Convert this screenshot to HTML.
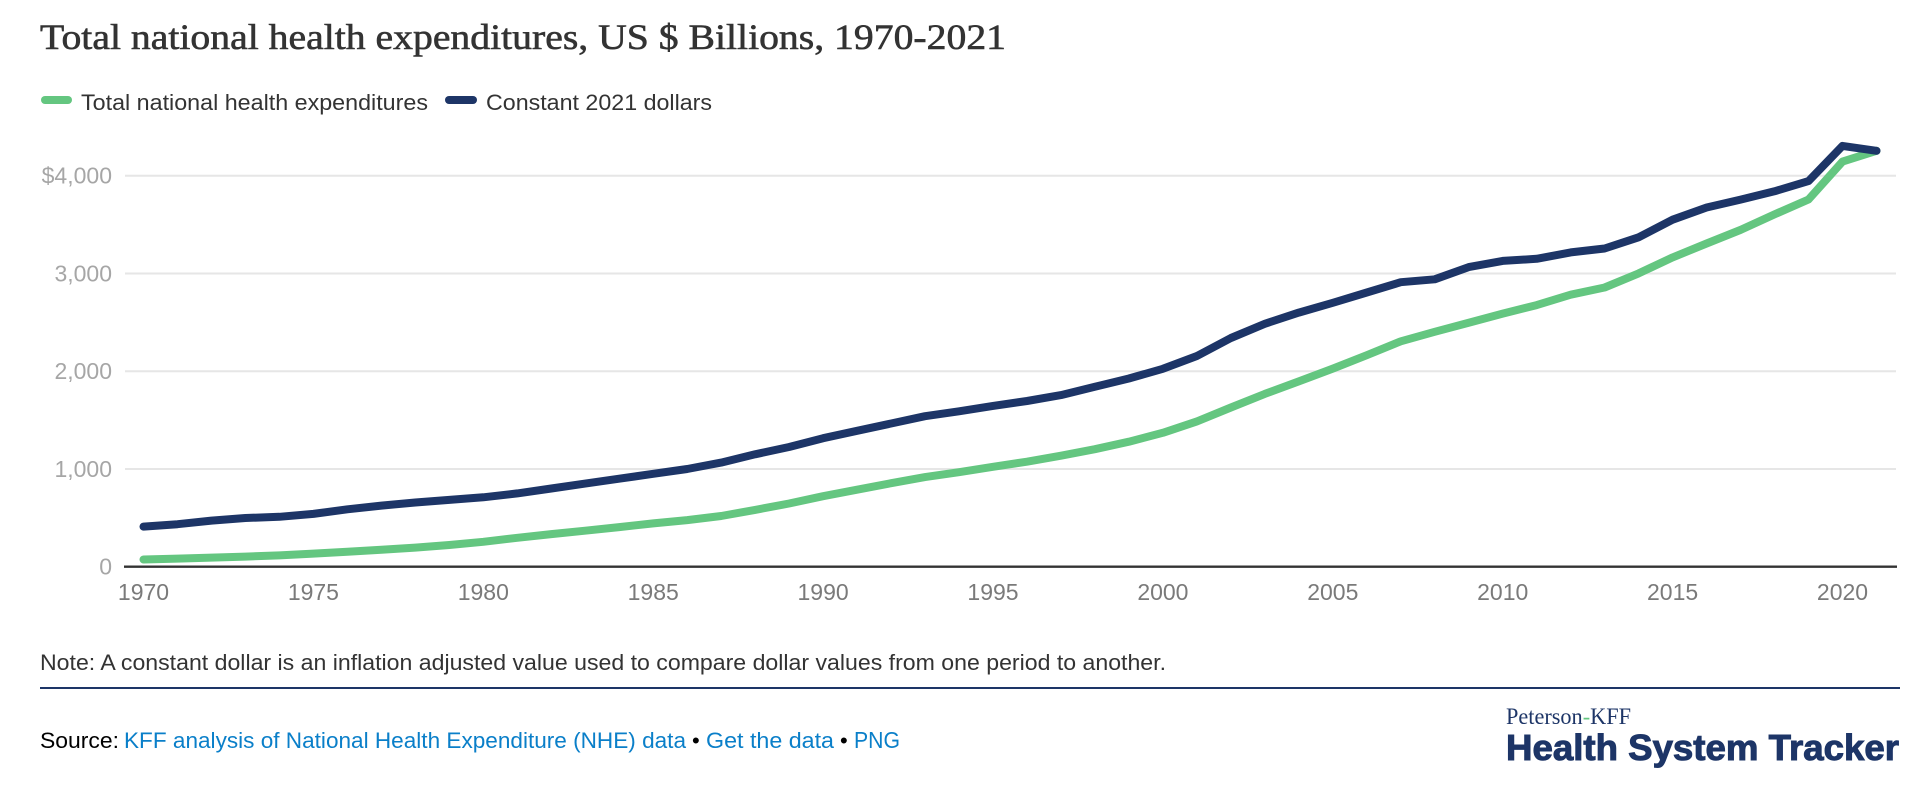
<!DOCTYPE html>
<html lang="en">
<head>
<meta charset="utf-8">
<title>Total national health expenditures, US $ Billions, 1970-2021</title>
<style>
  html, body { margin: 0; padding: 0; background: #fff; width: 1920px; height: 790px; overflow: hidden; }
  svg { display: block; }
  text { font-family: "Liberation Sans", sans-serif; }
  .serif { font-family: "Liberation Serif", serif; }
  a { cursor: pointer; }
</style>
</head>
<body>
<svg id="chart" width="1920" height="790" viewBox="0 0 1920 790" xmlns="http://www.w3.org/2000/svg">
  <text class="serif" x="40" y="49" font-size="36" fill="#333" stroke="#333" stroke-width="0.6" textLength="966" lengthAdjust="spacingAndGlyphs">Total national health expenditures, US $ Billions, 1970-2021</text>

  <rect x="41" y="96" width="31" height="8" rx="4" fill="#64c680"/>
  <text x="81" y="110" font-size="22" fill="#333" textLength="347" lengthAdjust="spacingAndGlyphs">Total national health expenditures</text>
  <rect x="445" y="96" width="32" height="8" rx="4" fill="#1d3567"/>
  <text x="486" y="110" font-size="22" fill="#333" textLength="226" lengthAdjust="spacingAndGlyphs">Constant 2021 dollars</text>

  <g id="grid"></g>
  <g id="y-axis"></g>
  <g id="x-axis"></g>
  <g id="series"></g>

  <text x="40" y="670" font-size="22" fill="#333" textLength="1126" lengthAdjust="spacingAndGlyphs">Note: A constant dollar is an inflation adjusted value used to compare dollar values from one period to another.</text>
  <rect x="40" y="687" width="1860" height="2" fill="#1d3567"/>

  <text x="40" y="748" font-size="22" fill="#000" textLength="79" lengthAdjust="spacingAndGlyphs">Source:</text>
  <a href="#"><text x="124" y="748" font-size="22" fill="#0a7fc9" textLength="562" lengthAdjust="spacingAndGlyphs">KFF analysis of National Health Expenditure (NHE) data</text></a>
  <text x="692" y="748" font-size="22" fill="#000">•</text>
  <a href="#"><text x="706" y="748" font-size="22" fill="#0a7fc9" textLength="128" lengthAdjust="spacingAndGlyphs">Get the data</text></a>
  <text x="840" y="748" font-size="22" fill="#000">•</text>
  <a href="#"><text x="854" y="748" font-size="23" fill="#0a7fc9" textLength="46" lengthAdjust="spacingAndGlyphs">PNG</text></a>

  <g>
    <text class="serif" x="1506" y="724" font-size="23" fill="#1d3567" textLength="125" lengthAdjust="spacingAndGlyphs">Peterson<tspan fill="#64c680">-</tspan>KFF</text>
    <text x="1506" y="760" font-size="36" font-weight="700" fill="#1d3567" stroke="#1d3567" stroke-width="1" textLength="393" lengthAdjust="spacingAndGlyphs">Health System Tracker</text>
  </g>
</svg>

<script>
const years = [1970,1971,1972,1973,1974,1975,1976,1977,1978,1979,1980,1981,1982,1983,1984,1985,1986,1987,1988,1989,1990,1991,1992,1993,1994,1995,1996,1997,1998,1999,2000,2001,2002,2003,2004,2005,2006,2007,2008,2009,2010,2011,2012,2013,2014,2015,2016,2017,2018,2019,2020,2021];
const totalExpenditures = [74,83,93,103,116,134,153,174,195,222,255,296,334,368,405,443,477,519,581,647,721,788,854,917,967,1022,1074,1136,1202,1279,1370,1486,1629,1768,1896,2027,2164,2306,2403,2496,2589,2676,2783,2856,3001,3164,3306,3446,3604,3757,4144,4255];
const constantDollars = [410,435,472,498,510,540,587,625,657,683,710,750,800,850,900,950,1000,1065,1150,1225,1315,1390,1465,1540,1590,1645,1695,1755,1840,1925,2025,2155,2340,2485,2600,2700,2805,2910,2940,3065,3128,3150,3215,3255,3370,3550,3675,3755,3840,3945,4305,4255];
const yTickValues = [1000,2000,3000,4000];
const yTickLabels = ["1,000","2,000","3,000","$4,000"];
const xTickYears = [1970,1975,1980,1985,1990,1995,2000,2005,2010,2015,2020];

const NS = "http://www.w3.org/2000/svg";
const xScale = y => 143.5 + (y - 1970) * 33.98;
const yScale = v => 566.7 - v * 0.09775;

const grid = document.getElementById('grid');
const yAxis = document.getElementById('y-axis');
const xAxis = document.getElementById('x-axis');
const seriesGroup = document.getElementById('series');

function makeLine(x1, x2, y, color, w) {
  const l = document.createElementNS(NS, 'line');
  l.setAttribute('x1', x1);
  l.setAttribute('x2', x2);
  l.setAttribute('y1', y);
  l.setAttribute('y2', y);
  l.setAttribute('stroke', color);
  l.setAttribute('stroke-width', w);
  return l;
}

function makeText(x, y, str, anchor, color) {
  const t = document.createElementNS(NS, 'text');
  t.setAttribute('x', x);
  t.setAttribute('y', y);
  t.setAttribute('font-size', 23);
  t.setAttribute('text-anchor', anchor);
  t.setAttribute('fill', color);
  t.textContent = str;
  return t;
}

yTickValues.forEach((v, i) => {
  const g = makeLine(125, 1896, yScale(v), '#e6e6e6', 2);
  
  
  grid.appendChild(g);
  const t = makeText(112, yScale(v) + 8, yTickLabels[i], 'end', '#a6a6a6');
  
  
  yAxis.appendChild(t);
});

const zeroLabel = makeText(112, yScale(0) + 8, '0', 'end', '#a6a6a6');


yAxis.appendChild(zeroLabel);

const baseline = makeLine(124, 1897, yScale(0), '#333333', 2.4);


xAxis.appendChild(baseline);

xTickYears.forEach(y => {
  const t = makeText(xScale(y), 600, String(y), 'middle', '#7a7a7a');
  
  
  xAxis.appendChild(t);
});

function makeSeries(values, color) {
  const p = document.createElementNS(NS, 'path');
  const d = values.map((v, i) => (i ? 'L' : 'M') + xScale(years[i]).toFixed(1) + ' ' + yScale(v).toFixed(1)).join(' ');
  p.setAttribute('d', d);
  p.setAttribute('fill', 'none');
  p.setAttribute('stroke', color);
  p.setAttribute('stroke-width', 8);
  p.setAttribute('stroke-linecap', 'round');
  p.setAttribute('stroke-linejoin', 'round');
  return p;
}

const totalLine = makeSeries(totalExpenditures, '#64c680');


seriesGroup.appendChild(totalLine);

const constantLine = makeSeries(constantDollars, '#1d3567');


seriesGroup.appendChild(constantLine);
</script>
</body>
</html>
